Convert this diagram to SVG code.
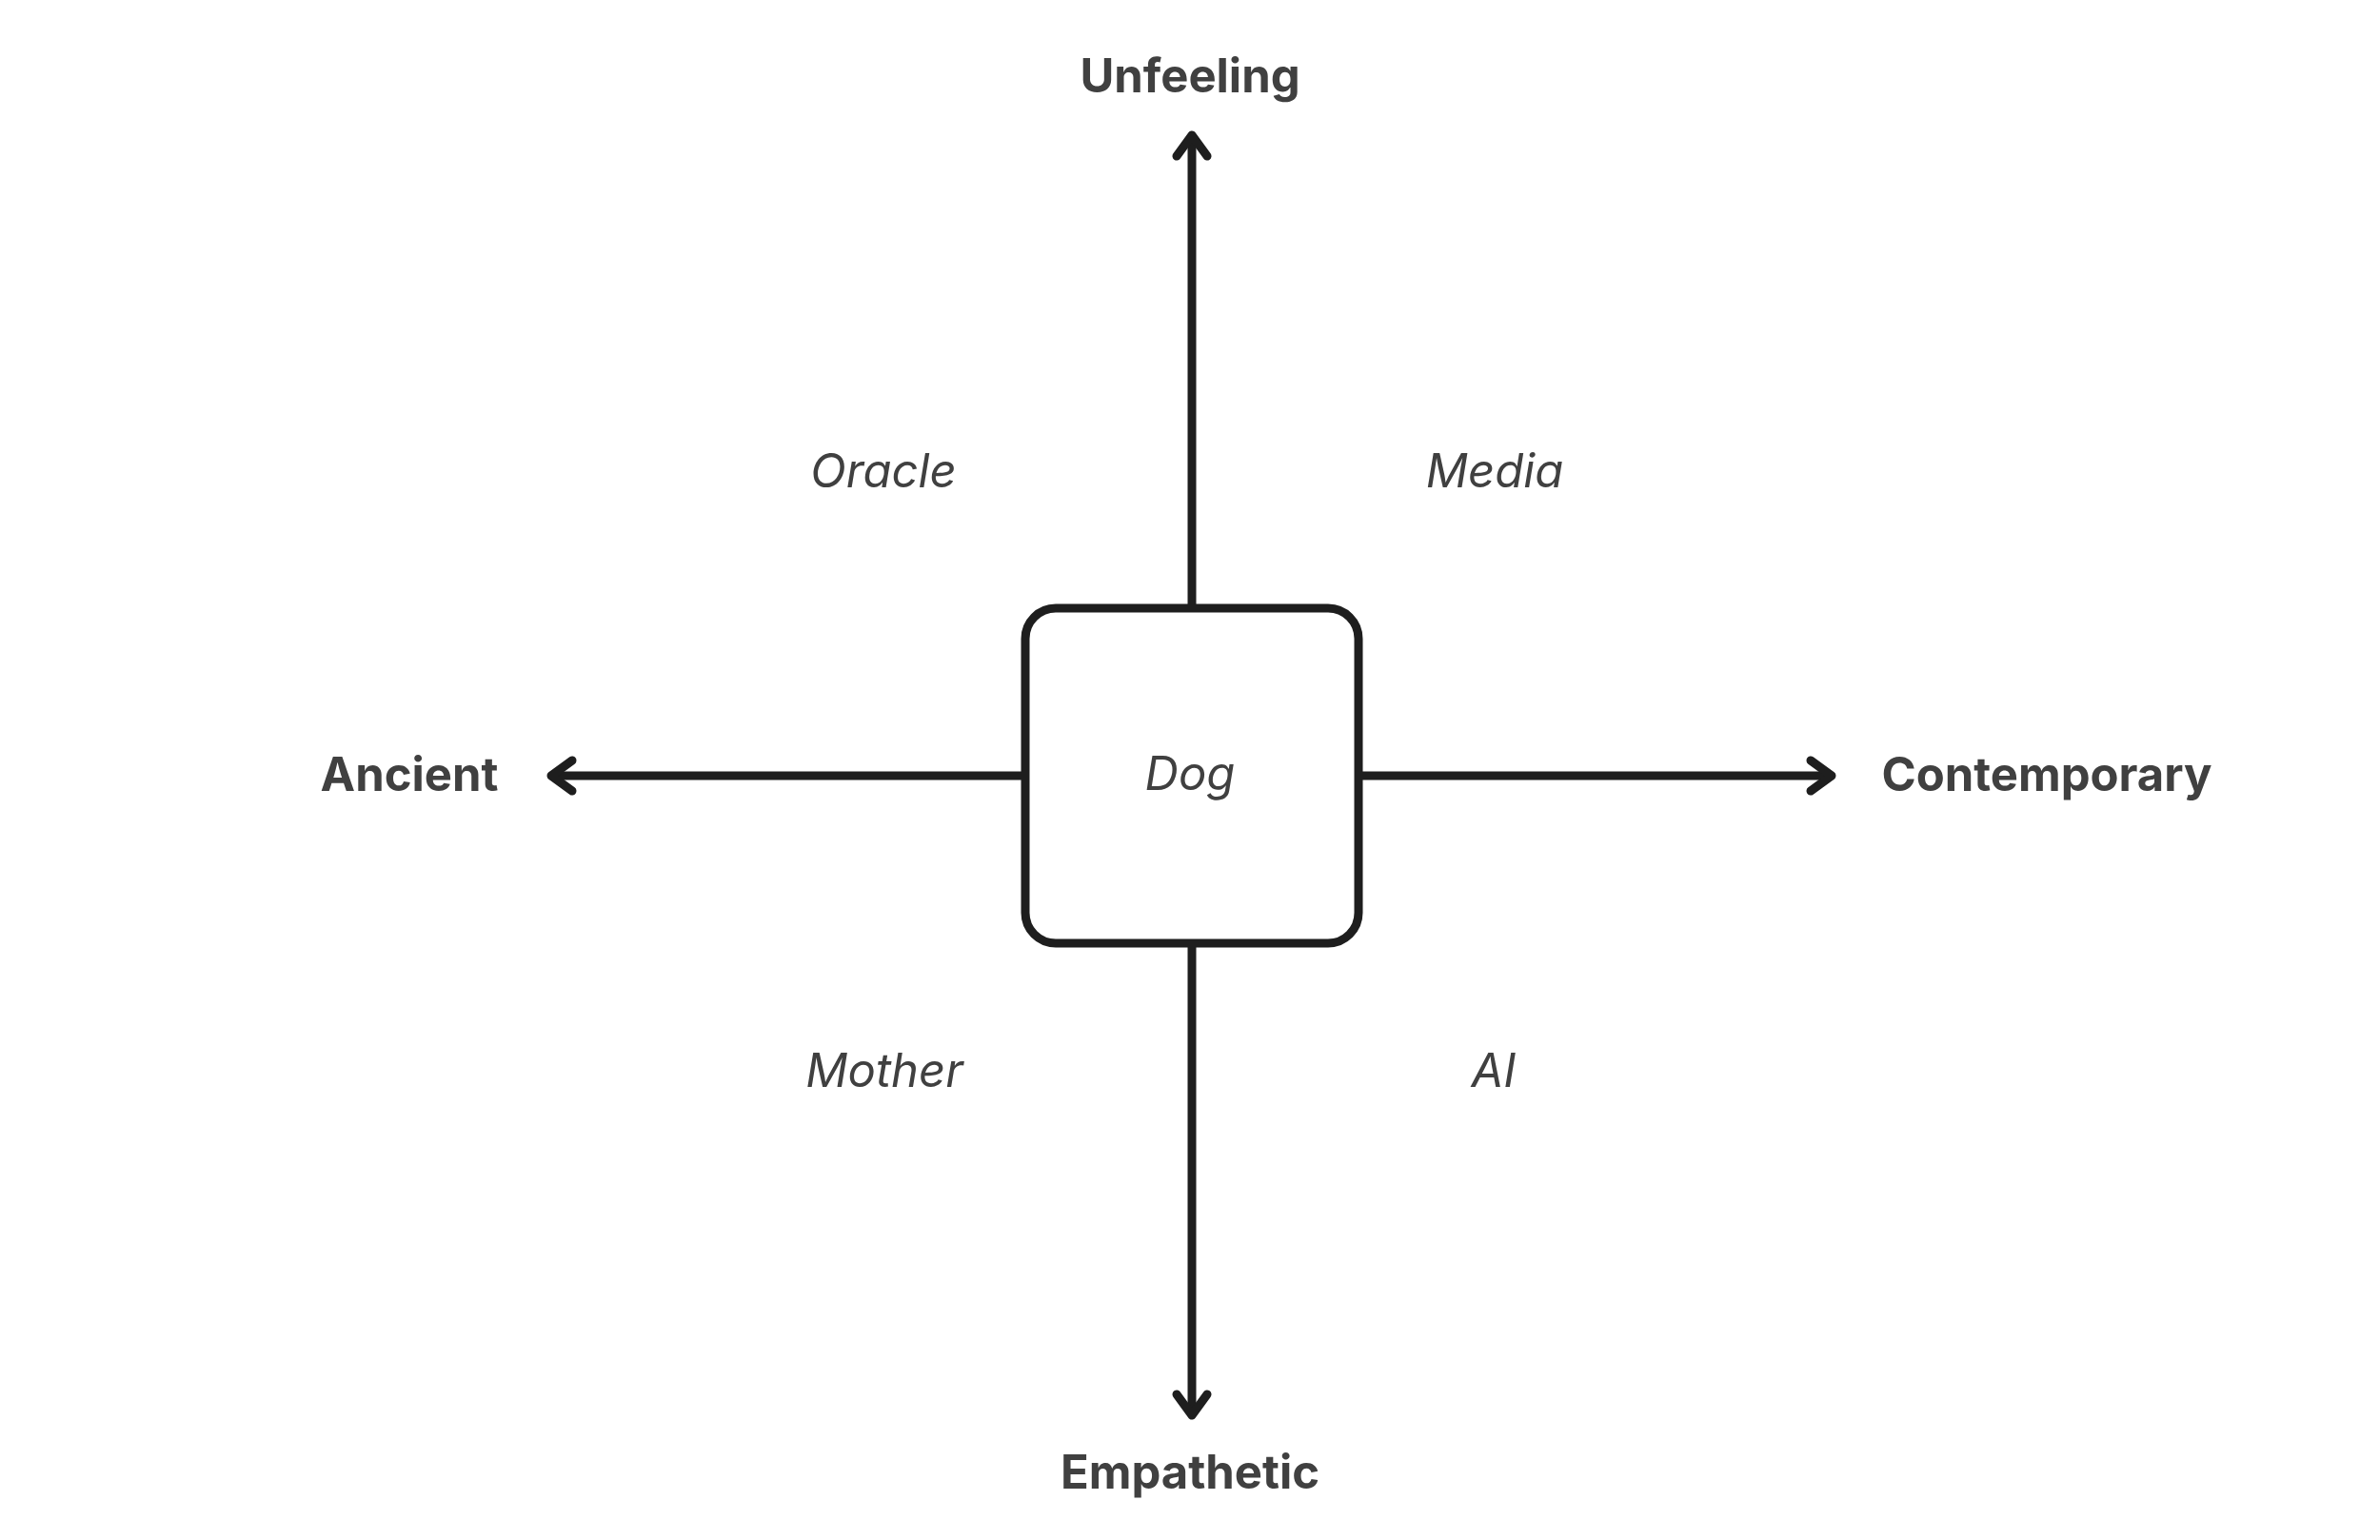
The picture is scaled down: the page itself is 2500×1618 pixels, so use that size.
<svg xmlns="http://www.w3.org/2000/svg" width="2500" height="1618" viewBox="0 0 2500 1618">
  <style>
    .axis { font-family: Inter, "Liberation Sans", sans-serif; font-weight: 700; font-size: 49px; fill: #404040; }
    .quad { font-family: Inter, "Liberation Sans", sans-serif; font-style: italic; font-size: 49px; fill: #404040; }
    .conn { stroke: #1e1e1e; stroke-width: 9; fill: none; }
    .node { stroke: #1e1e1e; stroke-width: 9; fill: #ffffff; }
  </style>
  <defs>
    <marker id="arrow" markerUnits="userSpaceOnUse" markerWidth="60" markerHeight="60" viewBox="-40 -30 60 60" refX="0" refY="0" orient="auto" overflow="visible">
      <path d="M-22,-16 L0,0 L-22,16" fill="none" stroke="#1e1e1e" stroke-width="9" stroke-linecap="round" stroke-linejoin="round"/>
    </marker>
  </defs>
  <rect width="2500" height="1618" fill="#ffffff"/>
  <g id="connectors">
    <line class="conn" x1="1252" y1="639" x2="1252" y2="142" marker-end="url(#arrow)"/>
    <line class="conn" x1="1252" y1="991" x2="1252" y2="1487" marker-end="url(#arrow)"/>
    <line class="conn" x1="1077" y1="815" x2="579" y2="815" marker-end="url(#arrow)"/>
    <line class="conn" x1="1427" y1="815" x2="1924" y2="815" marker-end="url(#arrow)"/>
  </g>
  <g id="node-dog">
    <rect class="node" x="1077" y="639" width="350" height="352" rx="32" ry="32"/>
    <text class="quad" x="1250" y="830" text-anchor="middle">Dog</text>
  </g>
  <g id="label-unfeeling"><text class="axis" x="1250" y="97" text-anchor="middle">Unfeeling</text></g>
  <g id="label-empathetic"><text class="axis" x="1250" y="1564" text-anchor="middle">Empathetic</text></g>
  <g id="label-ancient"><text class="axis" x="430" y="831" text-anchor="middle">Ancient</text></g>
  <g id="label-contemporary"><text class="axis" x="2150" y="831" text-anchor="middle">Contemporary</text></g>
  <g id="label-oracle"><text class="quad" x="928" y="512" text-anchor="middle">Oracle</text></g>
  <g id="label-media"><text class="quad" x="1570" y="512" text-anchor="middle">Media</text></g>
  <g id="label-mother"><text class="quad" x="929" y="1142" text-anchor="middle">Mother</text></g>
  <g id="label-ai"><text class="quad" x="1569" y="1142" text-anchor="middle">AI</text></g>
</svg>
